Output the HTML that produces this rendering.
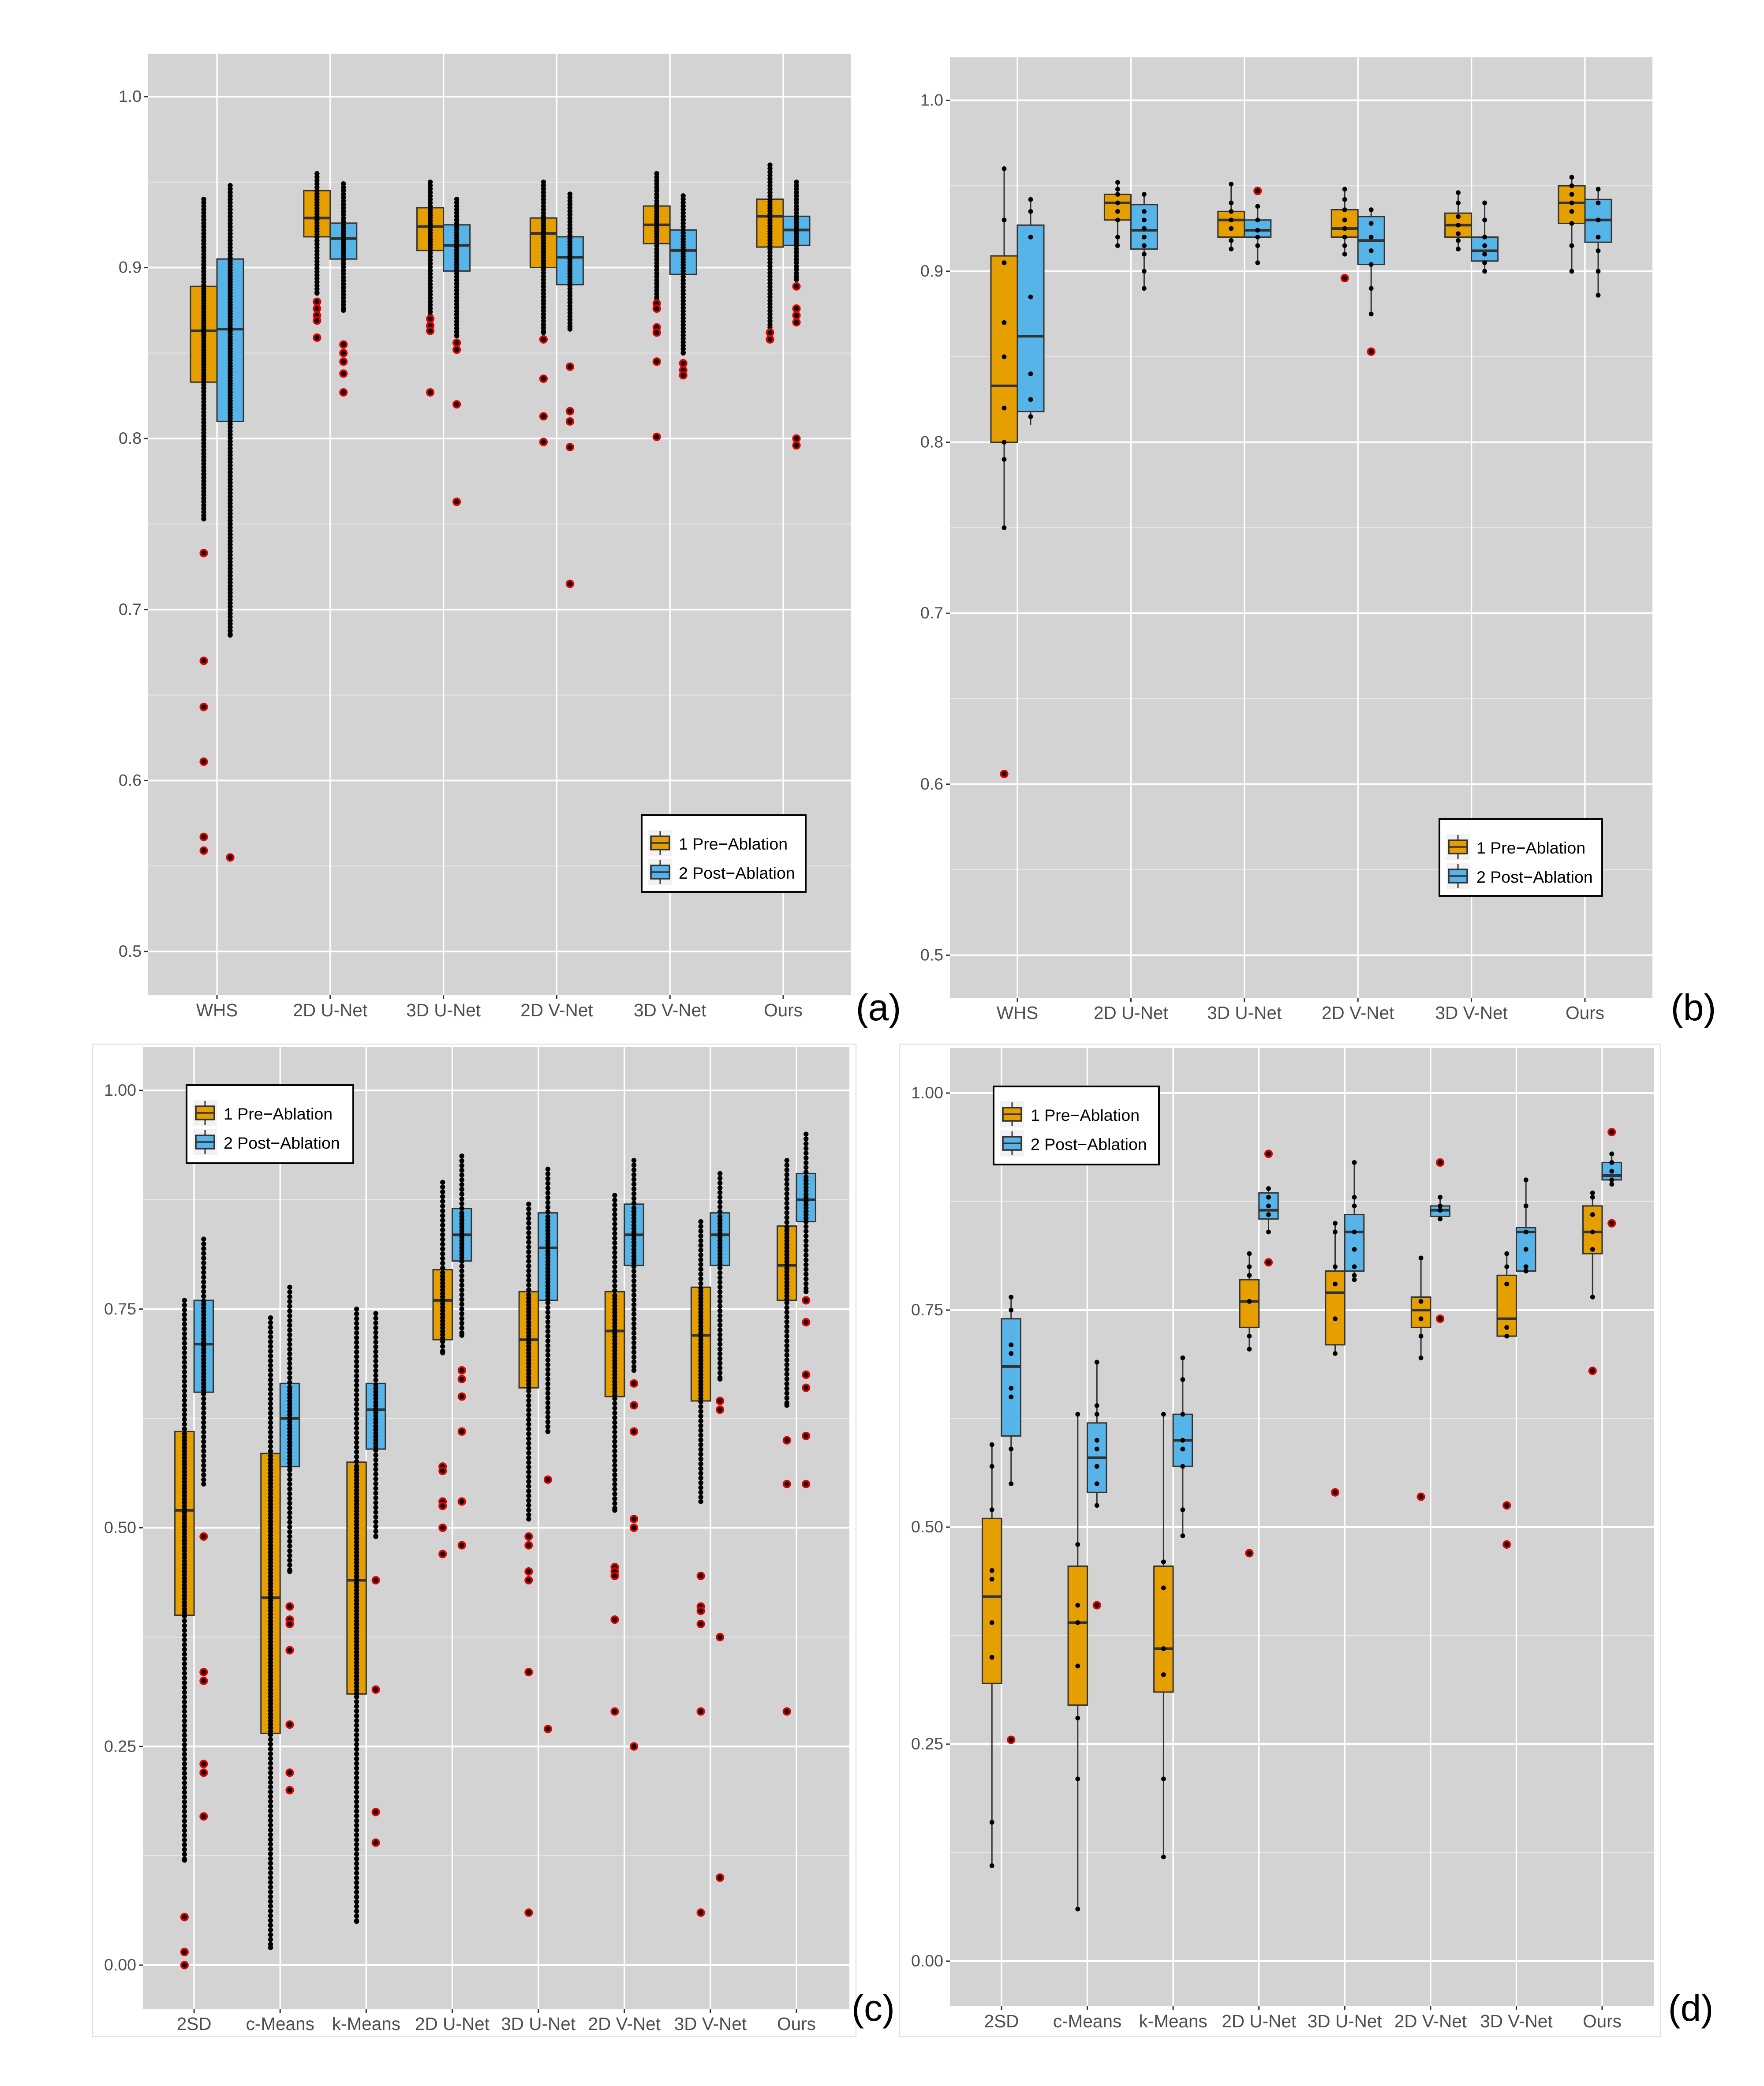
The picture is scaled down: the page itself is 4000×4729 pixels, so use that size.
<!DOCTYPE html>
<html><head><meta charset="utf-8"><style>
html,body{margin:0;padding:0;background:#fff;width:4000px;height:4729px;overflow:hidden}
svg{display:block}
text{font-family:"Liberation Sans",sans-serif}
</style></head><body>
<svg id="fig" width="4000" height="4729" viewBox="0 0 1333.33 1576.33" xmlns="http://www.w3.org/2000/svg"></svg>
<script>
// ---------- data ----------
const aCats=["WHS","2D U-Net","3D U-Net","2D V-Net","3D V-Net","Ours"];
const aPre=[[0.753,0.833,0.863,0.889,0.94],[0.885,0.918,0.929,0.945,0.955],[0.872,0.91,0.924,0.935,0.95],[0.862,0.9,0.92,0.929,0.95],[0.882,0.914,0.925,0.936,0.955],[0.865,0.912,0.93,0.94,0.96]];
const aPost=[[0.685,0.81,0.864,0.905,0.948],[0.875,0.905,0.917,0.926,0.949],[0.86,0.898,0.913,0.925,0.94],[0.864,0.89,0.906,0.918,0.943],[0.85,0.896,0.91,0.922,0.942],[0.893,0.913,0.922,0.93,0.95]];
const aPreOut=[[0.733,0.67,0.643,0.611,0.567,0.559],[0.88,0.876,0.872,0.869,0.859],[0.87,0.866,0.863,0.827],[0.858,0.835,0.813,0.798],[0.879,0.876,0.865,0.862,0.845,0.801],[0.862,0.858]];
const aPostOut=[[0.555],[0.855,0.85,0.845,0.838,0.827],[0.856,0.852,0.82,0.763],[0.842,0.816,0.81,0.795,0.715],[0.844,0.84,0.837],[0.889,0.876,0.872,0.868,0.8,0.796]];

const bCats=aCats;
const bPre=[[0.75,0.8,0.833,0.909,0.96],[0.915,0.93,0.94,0.945,0.952],[0.913,0.92,0.93,0.935,0.951],[0.91,0.92,0.925,0.936,0.948],[0.913,0.92,0.927,0.934,0.946],[0.9,0.928,0.94,0.95,0.955]];
const bPost=[[0.81,0.818,0.862,0.927,0.942],[0.89,0.913,0.924,0.939,0.945],[0.905,0.92,0.924,0.93,0.938],[0.875,0.904,0.918,0.932,0.936],[0.9,0.906,0.912,0.92,0.94],[0.886,0.917,0.93,0.942,0.948]];
const bPreOut=[[0.606],[],[],[0.896],[],[]];
const bPostOut=[[],[],[0.947],[0.853],[],[]];
const bPreDots=[[0.79,0.8,0.82,0.85,0.87,0.905,0.93,0.96,0.75],[0.915,0.92,0.93,0.935,0.94,0.945,0.948,0.952],[0.913,0.918,0.925,0.93,0.935,0.94,0.951],[0.91,0.915,0.92,0.925,0.93,0.936,0.942,0.948],[0.913,0.918,0.922,0.927,0.932,0.94,0.946],[0.9,0.915,0.928,0.935,0.94,0.945,0.95,0.955]];
const bPostDots=[[0.815,0.825,0.84,0.885,0.92,0.935,0.942],[0.89,0.9,0.91,0.915,0.92,0.925,0.93,0.935,0.945],[0.905,0.915,0.92,0.924,0.93,0.938],[0.875,0.89,0.904,0.912,0.92,0.928,0.936],[0.9,0.905,0.91,0.915,0.92,0.93,0.94],[0.886,0.9,0.912,0.92,0.93,0.94,0.948]];

const cCats=["2SD","c-Means","k-Means","2D U-Net","3D U-Net","2D V-Net","3D V-Net","Ours"];
const cPre=[[0.12,0.40,0.52,0.61,0.76],[0.02,0.265,0.42,0.585,0.74],[0.05,0.31,0.44,0.575,0.75],[0.7,0.715,0.76,0.795,0.895],[0.51,0.66,0.715,0.77,0.87],[0.52,0.65,0.725,0.77,0.88],[0.53,0.645,0.72,0.775,0.85],[0.64,0.76,0.8,0.845,0.92]];
const cPost=[[0.55,0.655,0.71,0.76,0.83],[0.45,0.57,0.625,0.665,0.775],[0.49,0.59,0.635,0.665,0.745],[0.72,0.805,0.835,0.865,0.925],[0.61,0.76,0.82,0.86,0.91],[0.68,0.80,0.835,0.87,0.92],[0.67,0.8,0.835,0.86,0.905],[0.77,0.85,0.875,0.905,0.95]];
const cPreOut=[[0.055,0.015,0.0],[],[],[0.57,0.565,0.53,0.525,0.5,0.47],[0.49,0.48,0.45,0.44,0.335,0.06],[0.455,0.45,0.445,0.395,0.29],[0.445,0.41,0.405,0.39,0.29,0.06],[0.6,0.55,0.29]];
const cPostOut=[[0.49,0.335,0.325,0.23,0.22,0.17],[0.41,0.395,0.39,0.36,0.275,0.22,0.2],[0.44,0.315,0.175,0.14],[0.68,0.67,0.65,0.61,0.53,0.48],[0.555,0.27],[0.665,0.64,0.61,0.51,0.5,0.25],[0.645,0.635,0.375,0.1],[0.76,0.735,0.675,0.66,0.605,0.55]];

const dCats=cCats;
const dPre=[[0.11,0.32,0.42,0.51,0.595],[0.06,0.295,0.39,0.455,0.63],[0.12,0.31,0.36,0.455,0.63],[0.705,0.73,0.76,0.785,0.815],[0.7,0.71,0.77,0.795,0.85],[0.695,0.73,0.75,0.765,0.81],[0.72,0.72,0.74,0.79,0.815],[0.765,0.815,0.84,0.87,0.885]];
const dPost=[[0.55,0.605,0.685,0.74,0.765],[0.525,0.54,0.58,0.62,0.69],[0.49,0.57,0.6,0.63,0.695],[0.84,0.855,0.865,0.885,0.89],[0.785,0.795,0.84,0.86,0.92],[0.855,0.858,0.865,0.87,0.88],[0.795,0.795,0.84,0.845,0.9],[0.895,0.9,0.905,0.92,0.93]];
const dPreOut=[[],[],[],[0.47],[0.54],[0.535],[0.525,0.48],[0.68]];
const dPostOut=[[0.255],[0.41],[],[0.93,0.805],[],[0.92,0.74],[],[0.955,0.85]];
const dPreDots=[[0.11,0.16,0.35,0.39,0.44,0.45,0.52,0.57,0.595],[0.06,0.21,0.28,0.34,0.39,0.41,0.48,0.63],[0.12,0.21,0.33,0.36,0.43,0.46,0.63],[0.705,0.72,0.76,0.79,0.8,0.815],[0.7,0.74,0.78,0.8,0.84,0.85],[0.695,0.72,0.74,0.76,0.81],[0.72,0.73,0.78,0.8,0.815],[0.765,0.82,0.84,0.86,0.88,0.885]];
const dPostDots=[[0.55,0.59,0.65,0.66,0.7,0.71,0.75,0.765],[0.525,0.55,0.57,0.59,0.6,0.63,0.64,0.69],[0.49,0.52,0.57,0.59,0.6,0.63,0.67,0.695],[0.84,0.86,0.87,0.88,0.89],[0.785,0.79,0.8,0.82,0.84,0.87,0.88,0.92],[0.855,0.865,0.87,0.88],[0.795,0.8,0.82,0.84,0.87,0.9],[0.895,0.9,0.91,0.92,0.93]];

// ---------- drawing ----------
const NS="http://www.w3.org/2000/svg";
const svg=document.getElementById('fig');
function mk(tag,attrs,parent){const e=document.createElementNS(NS,tag);for(const k in attrs)e.setAttribute(k,attrs[k]);(parent||svg).appendChild(e);return e;}
const ORANGE="#E69F00",BLUE="#56B4E9";

function panel(cfg){
  const g=mk('g',{});
  
  
  if(cfg.border) mk('rect',{x:cfg.border[0],y:cfg.border[1],width:cfg.border[2],height:cfg.border[3],fill:"none",stroke:"#e2e2e2","stroke-width":0.8},g);
  const y=v=>cfg.yTop+(cfg.vTop-v)*cfg.scale;
  const n=cfg.cats.length;
  const xc=i=>cfg.cx0+i*(cfg.cx1-cfg.cx0)/(n-1);
  const bg=mk('rect',{x:cfg.x0,y:cfg.y0,width:cfg.x1-cfg.x0,height:cfg.y1-cfg.y0,fill:"#d3d3d3"},g);
  
  
  cfg.minor.forEach(v=>mk('line',{x1:cfg.x0,x2:cfg.x1,y1:y(v),y2:y(v),stroke:"#ececec","stroke-width":0.6},g));
  cfg.major.forEach((v,i)=>{
    mk('line',{x1:cfg.x0,x2:cfg.x1,y1:y(v),y2:y(v),stroke:"#fff","stroke-width":1.3},g);
    mk('line',{x1:cfg.x0-3,x2:cfg.x0,y1:y(v),y2:y(v),stroke:"#333","stroke-width":1},g);
    const t=mk('text',{x:cfg.x0-5,y:y(v)+4,"text-anchor":"end","font-size":12.5,fill:"#4d4d4d"},g);
    t.textContent=cfg.majorLabels[i];
    
    
  });
  cfg.cats.forEach((c,i)=>{
    mk('line',{x1:xc(i),x2:xc(i),y1:cfg.y0,y2:cfg.y1,stroke:"#fff","stroke-width":1.1},g);
    mk('line',{x1:xc(i),x2:xc(i),y1:cfg.y1,y2:cfg.y1+3,stroke:"#333","stroke-width":1},g);
    const t=mk('text',{x:xc(i),y:cfg.y1+16,"text-anchor":"middle","font-size":13.5,fill:"#4d4d4d"},g);
    t.textContent=c;
    
    
  });
  const series=[[cfg.pre,cfg.preOut,cfg.preDots,ORANGE,-1,'pre'],[cfg.post,cfg.postOut,cfg.postDots,BLUE,1,'post']];
  series.forEach(([st,out,dots,col,side,nm])=>{
    st.forEach((s,i)=>{
      const cx=xc(i)+side*cfg.bw/2;
      const bg2=mk('g',{},g);
      
      
      mk('line',{x1:cx,x2:cx,y1:y(s[0]),y2:y(s[4]),stroke:"#333","stroke-width":1},bg2);
      mk('rect',{x:cx-cfg.bw/2,y:y(s[3]),width:cfg.bw,height:Math.max(0.5,y(s[1])-y(s[3])),fill:col,stroke:"#333","stroke-width":1},bg2);
      mk('line',{x1:cx-cfg.bw/2,x2:cx+cfg.bw/2,y1:y(s[2]),y2:y(s[2]),stroke:"#333","stroke-width":2},bg2);
      if(dots){
        dots[i].forEach(v=>{const d=mk('circle',{cx:cx,cy:y(v),r:1.8,fill:"#000"},bg2);
          });
      }else{
        const ylo=y(s[0]),yhi=y(s[4]),yq3=y(s[3]),yq1=y(s[1]);
        let yy=yhi;
        while(yy<=ylo+0.01){
          mk('circle',{cx:cx,cy:yy,r:1.9,fill:"#000"},bg2);
          yy+=(yy>=yq3&&yy<=yq1)?cfg.dIn:cfg.dOut;
        }
        mk('circle',{cx:cx,cy:ylo,r:1.9,fill:"#000"},bg2);
      }
      out[i].forEach(v=>{
        const o=mk('circle',{cx:cx,cy:y(v),r:3.2,fill:"#e00000"},bg2);
        
        mk('circle',{cx:cx,cy:y(v),r:1.8,fill:"#000"},bg2);
      });
    });
  });
  const L=cfg.leg;
  const lg=mk('g',{},g);
  
  
  mk('rect',{x:L[0],y:L[1],width:L[2],height:L[3],fill:"#fff",stroke:"#000","stroke-width":1.3},lg);
  [["1 Pre\u2212Ablation",ORANGE],["2 Post\u2212Ablation",BLUE]].forEach(([lab,col],k)=>{
    const ky=L[1]+14+k*22;
    mk('rect',{x:L[0]+5,y:ky-3,width:18,height:20,fill:"#f2f2f2"},lg);
    mk('line',{x1:L[0]+14,x2:L[0]+14,y1:ky-2,y2:ky+16,stroke:"#333","stroke-width":1},lg);
    mk('rect',{x:L[0]+7,y:ky+2,width:14,height:10,fill:col,stroke:"#333","stroke-width":1.2},lg);
    mk('line',{x1:L[0]+7,x2:L[0]+21,y1:ky+7,y2:ky+7,stroke:"#333","stroke-width":1.2},lg);
    const t=mk('text',{x:L[0]+28,y:ky+12,"font-size":12.5,fill:"#000"},lg);
    t.textContent=lab;
    
    
  });
  const pl=mk('text',{x:cfg.lab[0],y:cfg.lab[1],"text-anchor":"middle","font-size":28,fill:"#000"},g);
  pl.textContent=cfg.label;
  
  
}

const majA=[0.5,0.6,0.7,0.8,0.9,1.0],minA=[0.55,0.65,0.75,0.85,0.95];
const majC=[0,0.25,0.5,0.75,1.0],minC=[0.125,0.375,0.625,0.875];
panel({name:'panel-a',x0:112,x1:643,y0:40.6,y1:752,yTop:73,vTop:1,scale:1292,cx0:164,cx1:592,bw:20,dIn:2.2,dOut:2.6,cats:aCats,pre:aPre,post:aPost,preOut:aPreOut,postOut:aPostOut,major:majA,majorLabels:["0.5","0.6","0.7","0.8","0.9","1.0"],minor:minA,leg:[485,616,124,58],label:"(a)",lab:[664,771]});
panel({name:'panel-b',x0:718,x1:1249,y0:43.3,y1:754,yTop:75.8,vTop:1,scale:1292,cx0:769,cx1:1198,bw:20,cats:bCats,pre:bPre,post:bPost,preOut:bPreOut,postOut:bPostOut,preDots:bPreDots,postDots:bPostDots,major:majA,majorLabels:["0.5","0.6","0.7","0.8","0.9","1.0"],minor:minA,leg:[1088,619,123,58],label:"(b)",lab:[1280,771]});
panel({name:'panel-c',border:[70,789,577,750],x0:108,x1:642,y0:791,y1:1518,yTop:824,vTop:1,scale:661,cx0:146.7,cx1:602,bw:14.5,dIn:2.6,dOut:3.6,cats:cCats,pre:cPre,post:cPost,preOut:cPreOut,postOut:cPostOut,major:majC,majorLabels:["0.00","0.25","0.50","0.75","1.00"],minor:minC,leg:[141,820,126,59],label:"(c)",lab:[660,1527]});
panel({name:'panel-d',border:[680,789,575,750],x0:718,x1:1250,y0:792,y1:1516,yTop:826,vTop:1,scale:656,cx0:757,cx1:1211,bw:14.5,cats:dCats,pre:dPre,post:dPost,preOut:dPreOut,postOut:dPostOut,preDots:dPreDots,postDots:dPostDots,major:majC,majorLabels:["0.00","0.25","0.50","0.75","1.00"],minor:minC,leg:[751,821,125,59],label:"(d)",lab:[1278,1527]});
</script>
</body></html>
